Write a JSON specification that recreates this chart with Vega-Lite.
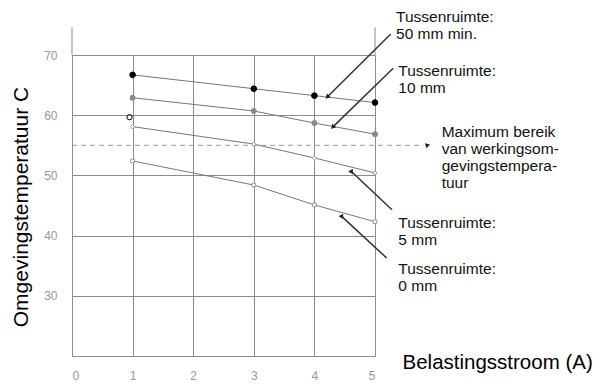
{
  "$schema": "https://vega.github.io/schema/vega-lite/v6.json",
  "autosize": {"type": "none"},
  "width": 303,
  "height": 301,
  "padding": {"left": 72, "top": 55, "right": 233, "bottom": 32},
  "background": "white",
  "config": {"view": {"stroke": null}, "font": "Liberation Sans"},
  "datasets": {
    "series": [
      {"series": "50 mm min.", "current": 1, "temp": 66.7},
      {"series": "50 mm min.", "current": 3, "temp": 64.4},
      {"series": "50 mm min.", "current": 4, "temp": 63.25},
      {"series": "50 mm min.", "current": 5, "temp": 62.1},
      {"series": "10 mm", "current": 1, "temp": 62.9},
      {"series": "10 mm", "current": 3, "temp": 60.7},
      {"series": "10 mm", "current": 4, "temp": 58.7},
      {"series": "10 mm", "current": 5, "temp": 56.85},
      {"series": "5 mm", "current": 1, "temp": 58.1},
      {"series": "5 mm", "current": 3, "temp": 55.2},
      {"series": "5 mm", "current": 4, "temp": 52.9},
      {"series": "5 mm", "current": 5, "temp": 50.4},
      {"series": "0 mm", "current": 1, "temp": 52.4},
      {"series": "0 mm", "current": 3, "temp": 48.4},
      {"series": "0 mm", "current": 4, "temp": 45.1},
      {"series": "0 mm", "current": 5, "temp": 42.3}
    ],
    "stray": [{"current": 0.95, "temp": 59.67}],
    "edges": [
      {"current": 0, "temp": 70, "temp2": 74.6},
      {"current": 5, "temp": 70, "temp2": 74.6}
    ],
    "maxrange": [{"current": 0, "current2": 5.8, "temp": 55}],
    "arrows": [
      {"target": "50 mm min.", "x": 5.26, "y": 73.5, "x2": 4.22, "y2": 63.1, "dir": "down-left"},
      {"target": "10 mm", "x": 5.3, "y": 67.8, "x2": 4.31, "y2": 58.1, "dir": "down-left"},
      {"target": "5 mm", "x": 5.28, "y": 44.3, "x2": 4.61, "y2": 50.65, "dir": "up-left"},
      {"target": "0 mm", "x": 5.19, "y": 36.3, "x2": 4.45, "y2": 43.2, "dir": "up-left"},
      {"target": "max", "x": 5.8, "y": 55, "x2": 5.86, "y2": 55, "dir": "right"}
    ],
    "labels": [
      {"text": "Tussenruimte:\n50 mm min.", "current": 5.347, "temp": 75.5},
      {"text": "Tussenruimte:\n10 mm", "current": 5.385, "temp": 66.5},
      {"text": "Maximum bereik\nvan werkingsom-\ngevingstempera-\ntuur", "current": 6.1, "temp": 56.35},
      {"text": "Tussenruimte:\n5 mm", "current": 5.385, "temp": 41.26},
      {"text": "Tussenruimte:\n0 mm", "current": 5.385, "temp": 33.68}
    ]
  },
  "layer": [
    {
      "data": {"name": "series"},
      "mark": {"type": "line", "color": "#777", "strokeWidth": 1, "clip": false},
      "encoding": {
        "x": {
          "field": "current", "type": "quantitative",
          "scale": {"domain": [0, 5], "nice": false, "zero": false},
          "axis": {
            "values": [0, 1, 2, 3, 4, 5], "format": "d", "grid": true, "gridColor": "#8c8c8c", "gridWidth": 1,
            "domain": true, "domainColor": "#8c8c8c", "ticks": false,
            "labelColor": "#999", "labelFontSize": 12, "labelPadding": 14,
            "title": "Belastingsstroom (A)", "titleFontSize": 20.5, "titleFontWeight": "normal",
            "titleColor": "#000", "titleX": 330, "titleY": 6.5, "titleAlign": "left", "titleBaseline": "middle"
          }
        },
        "y": {
          "field": "temp", "type": "quantitative",
          "scale": {"domain": [20, 70], "nice": false, "zero": false},
          "axis": {
            "values": [20, 30, 40, 50, 60, 70], "format": "d", "grid": true, "gridColor": "#8c8c8c", "gridWidth": 1,
            "domain": true, "domainColor": "#8c8c8c", "ticks": false,
            "labelExpr": "datum.value == 20 ? '' : datum.label",
            "labelColor": "#999", "labelFontSize": 12, "labelPadding": 15,
            "title": "Omgevingstemperatuur  C", "titleFontSize": 21, "titleFontWeight": "normal",
            "titleColor": "#000", "titleAngle": 270, "titleX": -51, "titleY": 151.5,
            "titleAlign": "center", "titleBaseline": "middle"
          }
        },
        "detail": {"field": "series", "type": "nominal"}
      }
    },
    {
      "data": {"name": "edges"},
      "mark": {"type": "rule", "color": "#8c8c8c", "strokeWidth": 1, "clip": false},
      "encoding": {
        "x": {"field": "current", "type": "quantitative", "scale": {"domain": [0, 5]}},
        "y": {"field": "temp", "type": "quantitative", "scale": {"domain": [20, 70]}},
        "y2": {"field": "temp2"}
      }
    },
    {
      "data": {"name": "maxrange"},
      "mark": {"type": "rule", "color": "#999", "strokeWidth": 1, "strokeDash": [5, 4], "clip": false},
      "encoding": {
        "x": {"field": "current", "type": "quantitative", "scale": {"domain": [0, 5]}},
        "x2": {"field": "current2"},
        "y": {"field": "temp", "type": "quantitative", "scale": {"domain": [20, 70]}}
      }
    },
    {
      "data": {"name": "series"},
      "mark": {"type": "point", "filled": false, "strokeWidth": 1, "opacity": 1, "clip": false},
      "encoding": {
        "x": {"field": "current", "type": "quantitative", "scale": {"domain": [0, 5]}},
        "y": {"field": "temp", "type": "quantitative", "scale": {"domain": [20, 70]}},
        "shape": {"field": "series", "type": "nominal", "scale": {"domain": ["50 mm min.", "10 mm", "5 mm", "0 mm"], "range": ["circle", "circle", "diamond", "square"]}, "legend": null},
        "fill": {"field": "series", "type": "nominal", "scale": {"domain": ["50 mm min.", "10 mm", "5 mm", "0 mm"], "range": ["#000000", "#888888", "#ffffff", "#ffffff"]}, "legend": null},
        "stroke": {"field": "series", "type": "nominal", "scale": {"domain": ["50 mm min.", "10 mm", "5 mm", "0 mm"], "range": ["#000000", "#888888", "#999999", "#999999"]}, "legend": null},
        "size": {"field": "series", "type": "nominal", "scale": {"domain": ["50 mm min.", "10 mm", "5 mm", "0 mm"], "range": [32, 13, 20, 16]}, "legend": null}
      }
    },
    {
      "data": {"name": "stray"},
      "mark": {"type": "point", "filled": false, "color": "#000", "strokeWidth": 1, "size": 28, "opacity": 1, "clip": false},
      "encoding": {
        "x": {"field": "current", "type": "quantitative", "scale": {"domain": [0, 5]}},
        "y": {"field": "temp", "type": "quantitative", "scale": {"domain": [20, 70]}}
      }
    },
    {
      "data": {"name": "arrows"},
      "transform": [{"filter": "datum.dir != 'right'"}],
      "mark": {"type": "rule", "color": "#333", "strokeWidth": 1.5, "clip": false},
      "encoding": {
        "x": {"field": "x", "type": "quantitative", "scale": {"domain": [0, 5]}},
        "y": {"field": "y", "type": "quantitative", "scale": {"domain": [20, 70]}},
        "x2": {"field": "x2"},
        "y2": {"field": "y2"}
      }
    },
    {
      "data": {"name": "arrows"},
      "mark": {"type": "point", "shape": "triangle", "filled": true, "color": "#222", "size": 28, "opacity": 1, "clip": false},
      "encoding": {
        "x": {"field": "x2", "type": "quantitative", "scale": {"domain": [0, 5]}},
        "y": {"field": "y2", "type": "quantitative", "scale": {"domain": [20, 70]}},
        "angle": {"field": "dir", "type": "nominal", "scale": {"domain": ["down-left", "up-left", "right"], "range": [225, 315, 90]}, "legend": null}
      }
    },
    {
      "data": {"name": "labels"},
      "mark": {"type": "text", "align": "left", "baseline": "alphabetic", "lineBreak": "\n", "lineHeight": 17, "fontSize": 15.5, "color": "#111", "font": "Liberation Sans", "clip": false},
      "encoding": {
        "x": {"field": "current", "type": "quantitative", "scale": {"domain": [0, 5]}},
        "y": {"field": "temp", "type": "quantitative", "scale": {"domain": [20, 70]}},
        "text": {"field": "text", "type": "nominal"}
      }
    }
  ]
}
